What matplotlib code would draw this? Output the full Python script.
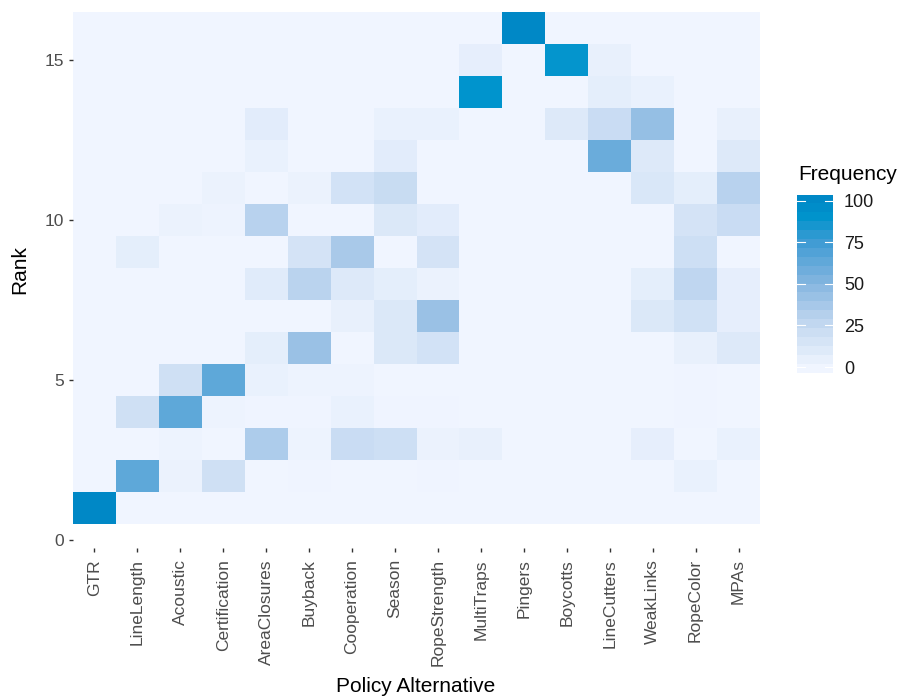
import numpy as np
import matplotlib
matplotlib.use("Agg")
import matplotlib.pyplot as plt
from matplotlib.colors import LinearSegmentedColormap, Normalize

plt.rcParams["font.family"] = ["Liberation Sans", "DejaVu Sans"]

policies = ["GTR", "LineLength", "Acoustic", "Certification", "AreaClosures",
            "Buyback", "Cooperation", "Season", "RopeStrength", "MultiTraps",
            "Pingers", "Boycotts", "LineCutters", "WeakLinks", "RopeColor", "MPAs"]
ranks = list(range(1, 17))

# frequency of each rank (1..16) for every policy alternative
gtr          = [100, 0, 0, 0, 0, 0, 0, 0, 0, 0, 0, 0, 0, 0, 0, 0]
line_length  = [0, 64, 0, 19, 0, 0, 0, 0, 7, 0, 0, 0, 0, 0, 0, 0]
acoustic     = [0, 3, 2, 64, 19, 0, 0, 0, 0, 3, 0, 0, 0, 0, 0, 0]
certification = [0, 19, 0, 2, 64, 0, 0, 0, 0, 2, 3, 0, 0, 0, 0, 0]
area_closures = [0, 0, 34, 1, 4, 7, 0, 9, 0, 30, 0, 4, 8, 0, 0, 0]
buyback      = [0, 1, 2, 1, 2, 42, 0, 29, 16, 0, 3, 0, 0, 0, 0, 0]
cooperation  = [0, 0, 22, 4, 2, 0, 5, 11, 36, 0, 17, 0, 0, 0, 0, 0]
season       = [0, 0, 20, 1, 0, 12, 12, 7, 0, 12, 23, 8, 4, 0, 0, 0]
rope_strength = [0, 1, 3, 1, 0, 17, 42, 3, 16, 8, 0, 0, 4, 0, 0, 0]
multi_traps  = [0, 0, 5, 0, 0, 0, 0, 0, 0, 0, 0, 0, 0, 90, 6, 0]
pingers      = [0, 0, 0, 0, 0, 0, 0, 0, 0, 0, 0, 0, 0, 0, 0, 100]
boycotts     = [0, 0, 0, 0, 0, 0, 0, 0, 0, 0, 0, 0, 11, 0, 89, 0]
line_cutters = [0, 0, 0, 0, 0, 0, 0, 0, 0, 0, 0, 60, 22, 7, 5, 0]
weak_links   = [0, 0, 6, 0, 0, 0, 12, 7, 0, 0, 13, 11, 44, 4, 0, 0]
rope_color   = [0, 4, 0, 1, 1, 5, 18, 27, 20, 16, 7, 0, 0, 0, 0, 0]
mpas         = [0, 0, 4, 0, 0, 11, 6, 6, 0, 22, 30, 11, 5, 0, 0, 0]

freq = np.array([gtr, line_length, acoustic, certification, area_closures,
                 buyback, cooperation, season, rope_strength, multi_traps,
                 pingers, boycotts, line_cutters, weak_links, rope_color, mpas]).T

cmap = LinearSegmentedColormap.from_list(
    "freq", [(0.0, "#F0F5FF"), (0.25, "#C4D9F1"), (0.5, "#86B6E0"),
             (0.75, "#3F9CD4"), (0.9, "#0094CD"), (1.0, "#0088C6")])
norm = Normalize(0, 100)

fig = plt.figure(figsize=(9.05, 6.98), dpi=100)
ax = fig.add_axes([73 / 905, 1 - 548 / 698, 687 / 905, 536 / 698])

xe = np.arange(0.5, len(policies) + 1)
ye = np.arange(0.5, len(ranks) + 1)
ax.pcolormesh(xe, ye, freq, cmap=cmap, norm=norm)

ax.set_xlim(0.5, 16.5)
ax.set_ylim(-0.25, 16.5)
ax.set_xticks(range(1, 17))
ax.set_xticklabels(policies, rotation=90, va="top", ha="center")
ax.set_yticks([0, 5, 10, 15])
for s in ax.spines.values():
    s.set_visible(False)
ax.tick_params(colors="#333333", labelcolor="#4D4D4D", labelsize=12.5,
               length=3, width=1)
ax.tick_params(axis="x", pad=5)

fig.text(20 / 905, 1 - 270 / 698, "Rank", rotation=90, ha="center",
         va="center", fontsize=15)
fig.text(416 / 905, 1 - 686 / 698, "Policy Alternative", ha="center",
         va="center", fontsize=15)

# legend colour bar (binned like ggplot)
cax = fig.add_axes([797 / 905, 1 - 373 / 698, 36 / 905, 178 / 698])
lo, hi = -3.6, 103.4
bins = np.linspace(lo, hi, 21)
mids = (bins[:-1] + bins[1:]) / 2
cax.imshow(mids.reshape(-1, 1), extent=[0, 1, lo, hi], origin="lower",
           aspect="auto", cmap=cmap, norm=norm, interpolation="nearest")
cax.set_xlim(0, 1)
cax.set_ylim(lo, hi)
cax.set_xticks([])
ticks = [0, 25, 50, 75, 100]
cax.set_yticks(ticks)
cax.yaxis.tick_right()
cax.tick_params(axis="y", length=0, pad=8, labelsize=13, labelcolor="#1A1A1A")
for t in ticks:
    cax.plot([0, 0.22], [t, t], color="white", lw=0.8)
    cax.plot([0.78, 1], [t, t], color="white", lw=0.8)
for s in cax.spines.values():
    s.set_visible(False)
fig.text(798 / 905, 1 - 175 / 698, "Frequency", ha="left", va="center",
         fontsize=15)

fig.savefig("out.png", dpi=100)
